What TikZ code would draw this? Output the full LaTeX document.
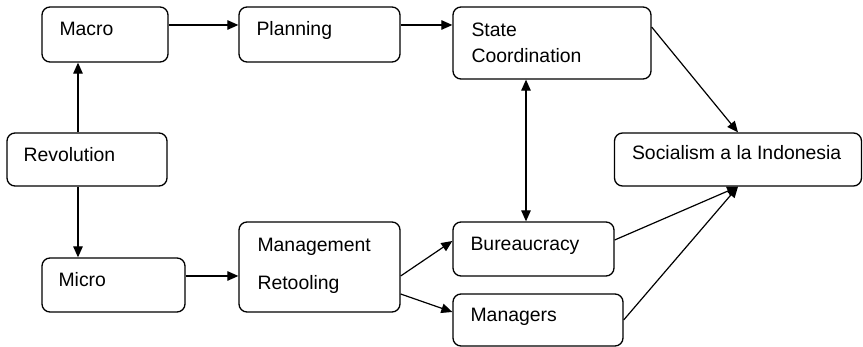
\documentclass[tikz,border=0pt]{standalone}
\usepackage{fontspec}
\setmainfont{Liberation Sans}
\usetikzlibrary{arrows.meta}

\begin{document}
\begin{tikzpicture}[x=1pt, y=-1pt,
        box/.style={draw, line width=1.3pt, rounded corners=8pt, inner sep=0pt},
        txt/.style={anchor=base west, inner sep=0pt, align=left,
            font=\fontsize{19.4}{26}\selectfont},
        link/.style={line width=1.2pt, -{Triangle[length=11pt, width=9.5pt]}},
        both/.style={line width=1.2pt, {Triangle[length=11pt, width=9.5pt]}-{Triangle[length=11pt, width=9.5pt]}}]

        \useasboundingbox (0,0) rectangle (863,347);

        % Boxes
        \node[box, minimum width=126, minimum height=55] (macro) at (105,34.5) {};
        \node[box, minimum width=161, minimum height=55] (plan) at (319.5,34.5) {};
        \node[box, minimum width=198, minimum height=72] (state) at (552,43) {};
        \node[box, minimum width=247, minimum height=53] (social) at (738,159.5) {};
        \node[box, minimum width=160, minimum height=53] (revol) at (87,159.5) {};
        \node[box, minimum width=143, minimum height=54] (micro) at (113.5,285) {};
        \node[box, minimum width=161, minimum height=90] (mgmt) at (319.5,267) {};
        \node[box, minimum width=161, minimum height=54] (bureau) at (533.5,249) {};
        \node[box, minimum width=170, minimum height=52] (managers) at (538,320) {};

        % Labels (base = last line)
        \node[txt] (macro-t) at ([shift={(18,29)}]macro.north west) {Macro};
        \node[txt] (plan-t) at ([shift={(18,29)}]plan.north west) {Planning};
        \node[txt] (state-t) at ([shift={(19,56)}]state.north west) {State\\Coordination};
        \node[txt] (social-t) at ([shift={(18,27)}]social.north west) {Socialism a la Indonesia};
        \node[txt] (revol-t) at ([shift={(17,29)}]revol.north west) {Revolution};
        \node[txt] (micro-t) at ([shift={(17,29)}]micro.north west) {Micro};
        \node[txt] (mgmt-t) at ([shift={(19,68)}]mgmt.north west) {Management\\[12pt]Retooling};
        \node[txt] (bureau-t) at ([shift={(18,29)}]bureau.north west) {Bureaucracy};
        \node[txt] (managers-t) at ([shift={(18,28)}]managers.north west) {Managers};

        % Arrows
        \draw[link] ([xshift=-9]revol.north) -- ([xshift=-27]macro.south);
        \draw[link] ([xshift=-9]revol.south) -- ([xshift=-35.5]micro.north);
        \draw[link] ([yshift=9.5]macro.east) -- ([yshift=9.5]plan.west);
        \draw[link] ([yshift=9.5]plan.east) -- ([yshift=18]state.west);
        \draw[link] ([yshift=9]micro.east) -- ([yshift=-9]mgmt.west);
        \draw[link] ([yshift=-9]mgmt.east) -- ([yshift=8]bureau.west);
        \draw[link] ([yshift=-27]mgmt.east) -- ([yshift=8]managers.west);
        \draw[both] ([xshift=-26]state.south) -- ([xshift=-7.5]bureau.north);
        \draw[link] ([yshift=16]state.east) -- (social.north);
        \draw[link] ([yshift=9]bureau.east) -- (social.south);
        \draw[link] (managers.east) -- (social.south);

    \end{tikzpicture}
\end{document}
